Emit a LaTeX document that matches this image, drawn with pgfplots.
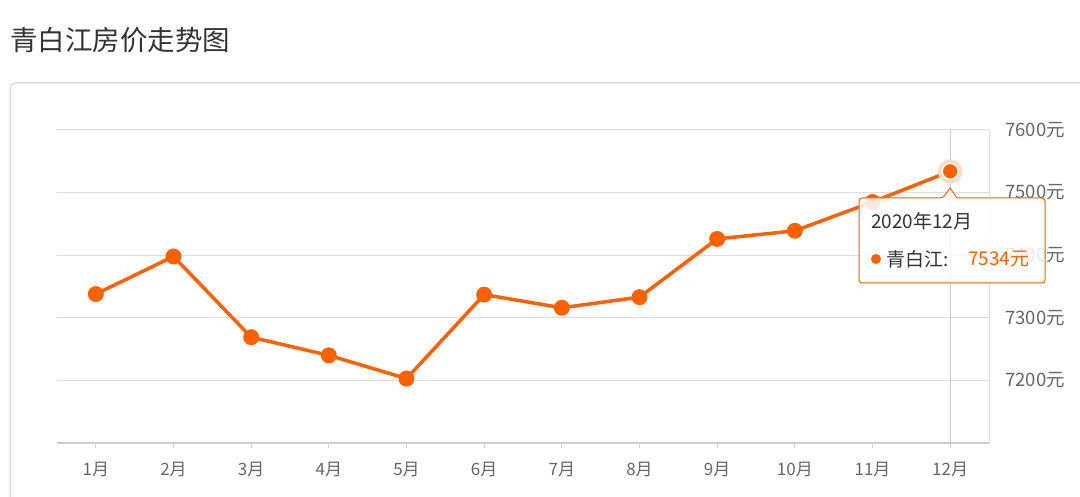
\documentclass[border=0pt]{standalone}
\usepackage{pgfplots}
\pgfplotsset{compat=1.18}
\usepackage{fontspec}
\setmainfont{Noto Sans CJK SC}
\definecolor{org}{HTML}{FF6000}
\definecolor{gridc}{HTML}{DDDDDD}
\definecolor{axc}{HTML}{CCCCCC}
\definecolor{tickc}{HTML}{666666}
\definecolor{titlec}{HTML}{333333}
\begin{document}
\begin{tikzpicture}[x=1pt,y=1pt]
\useasboundingbox (0,0) rectangle (1080,497);
% title
\node[anchor=west, inner sep=0pt, text=titlec, font=\fontsize{27.5}{31}\selectfont] at (10,457) {青白江房价走势图};
% panel
\draw[gridc, line width=1.5pt, rounded corners=6pt] (10,-20) -- (10,414) -- (1100,414);
\begin{axis}[
  at={(57pt,54pt)}, anchor=south west,
  width=932pt, height=313pt, scale only axis,
  xmin=0.5, xmax=12.5, ymin=7100, ymax=7600,
  axis x line*=bottom, axis y line*=right,
  x axis line style={draw=axc, line width=2pt, -},
  y axis line style={draw=gridc, line width=1pt, -},
  xtick={1,...,12},
  xticklabels={1月,2月,3月,4月,5月,6月,7月,8月,9月,10月,11月,12月},
  ytick={7200,7300,7400,7500,7600},
  yticklabels={7200元,7300元,7400元,7500元,7600元},
  tick align=outside,
  major tick length=5pt,
  x tick style={draw=axc, line width=1pt},
  y tick style={draw=none},
  ymajorgrids,
  grid style={draw=gridc, line width=1pt},
  xticklabel style={font=\fontsize{17}{19}\selectfont, text=tickc, anchor=north, inner sep=0pt, yshift=-14pt},
  yticklabel style={font=\fontsize{18.5}{20}\selectfont, text=tickc, anchor=west, inner sep=0pt, xshift=11pt},
  clip=false,
]
\draw[axc, line width=1pt] (axis cs:12,7100) -- (axis cs:12,7600);
\addplot[org, line width=3.5pt, mark=*, mark size=6.2pt, mark options={fill=org, draw=none}]
  coordinates {(1,7338) (2,7398) (3,7269) (4,7240) (5,7203) (6,7337) (7,7316) (8,7333) (9,7426) (10,7439) (11,7485) (12,7534)};
\addplot[org!22, only marks, mark=*, mark size=12pt, mark options={fill=org!22, draw=none}]
  coordinates {(12,7534)};
\addplot[org, only marks, mark=*, mark size=8pt, mark options={fill=org, draw=white, line width=1.5pt}]
  coordinates {(12,7534)};
\end{axis}
% tooltip
\draw[org, line width=1pt, fill=white, fill opacity=0.85, rounded corners=3pt]
  (859,214) -- (859,299) -- (943,299) [sharp corners] -- (950,309) -- (957,299) [rounded corners=3pt] -- (1045,299) -- (1045,214) -- cycle;
\node[anchor=west, inner sep=0pt, text=titlec, font=\fontsize{19}{21}\selectfont] at (871,276) {2020年12月};
\fill[org] (876,238) circle (5);
\node[anchor=west, inner sep=0pt, text=titlec, font=\fontsize{19}{21}\selectfont] at (886,238) {青白江:};
\node[anchor=west, inner sep=0pt, text=org, font=\fontsize{19}{21}\selectfont] at (968,238) {7534元};
\end{tikzpicture}
\end{document}
